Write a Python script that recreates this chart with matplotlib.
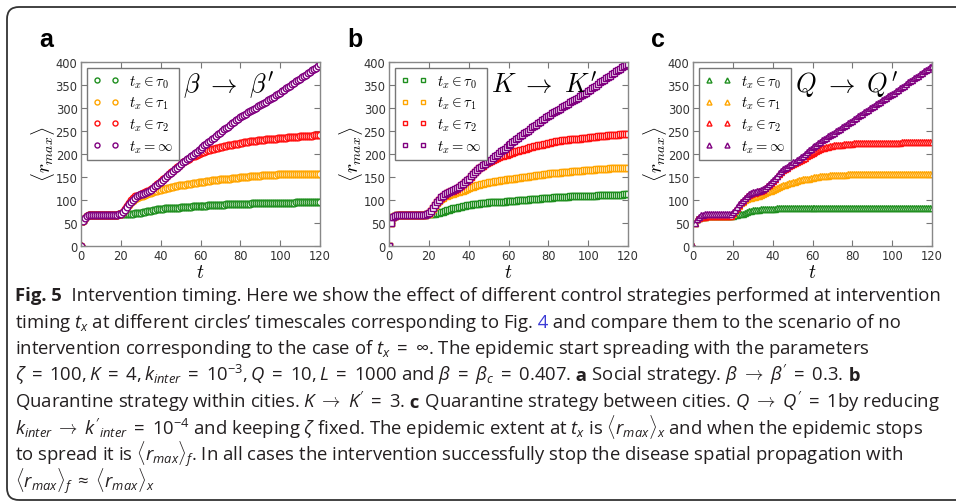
import numpy as np
import matplotlib
matplotlib.use("Agg")
import matplotlib.pyplot as plt
from matplotlib.patches import FancyBboxPatch
from matplotlib.transforms import IdentityTransform

# time grid shared by all curves
t = np.arange(0, 121)

# panel a: beta -> beta'
early_a = [0, 53, 60, 64, 66, 67, 67, 67, 67, 67, 67, 67, 67, 67, 67, 67, 67, 67, 67, 68]
a_t0 = early_a + [
    68, 68, 69, 69, 70, 70, 70, 71, 71, 72,
    72, 73, 74, 75, 76, 76, 77, 78, 79, 79,
    80, 80, 81, 81, 82, 82, 82, 83, 83, 83,
    84, 84, 84, 85, 85, 85, 86, 86, 86, 86,
    87, 87, 87, 87, 88, 88, 88, 88, 89, 89,
    89, 89, 89, 90, 90, 90, 90, 90, 90, 91,
    91, 91, 91, 91, 91, 91, 92, 92, 92, 92,
    92, 92, 92, 92, 93, 93, 93, 93, 93, 93,
    93, 93, 93, 93, 93, 93, 93, 93, 94, 94,
    94, 94, 94, 94, 94, 94, 94, 94, 94, 94,
    94]
a_t1 = early_a + [
    70, 73, 78, 84, 89, 94, 98, 101, 104, 106,
    107, 109, 111, 112, 114, 115, 117, 118, 120, 121,
    122, 123, 124, 125, 126, 127, 128, 129, 130, 131,
    132, 133, 133, 134, 135, 135, 136, 137, 137, 138,
    138, 139, 139, 140, 141, 141, 142, 142, 143, 143,
    144, 144, 145, 145, 146, 146, 147, 147, 148, 148,
    149, 149, 150, 150, 150, 151, 151, 151, 152, 152,
    152, 153, 153, 153, 153, 154, 154, 154, 154, 155,
    155, 155, 155, 155, 155, 156, 156, 156, 156, 156,
    156, 156, 156, 156, 156, 156, 156, 156, 156, 156,
    156]
a_t2 = early_a + [
    70, 74, 80, 87, 93, 99, 104, 107, 109, 111,
    113, 114, 116, 118, 120, 123, 126, 130, 134, 137,
    140, 144, 148, 152, 156, 160, 163, 167, 171, 174,
    178, 181, 184, 187, 189, 192, 194, 196, 198, 199,
    201, 203, 204, 206, 207, 208, 210, 211, 212, 213,
    214, 215, 216, 217, 218, 219, 220, 221, 222, 222,
    223, 224, 225, 225, 226, 227, 227, 228, 228, 229,
    229, 230, 230, 231, 231, 232, 232, 233, 233, 234,
    234, 234, 235, 235, 236, 236, 236, 237, 237, 237,
    238, 238, 238, 238, 239, 239, 239, 240, 240, 240,
    241]
a_inf = early_a + [
    70, 73, 78, 84, 90, 96, 100, 104, 107, 110,
    112, 113, 115, 117, 119, 122, 125, 129, 133, 136,
    139, 143, 147, 151, 155, 159, 162, 166, 170, 174,
    178, 181, 184, 188, 191, 195, 198, 201, 204, 207,
    210, 214, 218, 221, 225, 228, 232, 235, 239, 242,
    246, 249, 253, 256, 259, 263, 266, 270, 273, 276,
    280, 282, 285, 287, 290, 292, 295, 298, 300, 303,
    306, 308, 311, 313, 316, 318, 321, 324, 327, 330,
    333, 336, 339, 342, 345, 348, 351, 354, 357, 360,
    363, 366, 369, 372, 375, 378, 381, 384, 387, 390,
    394]

# panel b: K -> K'
early_b = [0, 50, 62, 65, 66, 67, 67, 67, 67, 67, 67, 67, 67, 67, 67, 67, 67, 67, 67, 68]
b_t0 = early_b + [
    68, 69, 69, 70, 71, 72, 73, 74, 76, 77,
    78, 80, 81, 82, 83, 84, 85, 86, 87, 88,
    89, 89, 90, 90, 91, 91, 92, 92, 93, 93,
    94, 94, 94, 95, 95, 95, 96, 96, 96, 97,
    97, 97, 98, 98, 98, 99, 99, 99, 100, 100,
    100, 101, 101, 101, 102, 102, 102, 103, 103, 103,
    104, 104, 104, 105, 105, 105, 105, 106, 106, 106,
    106, 107, 107, 107, 107, 108, 108, 108, 108, 108,
    109, 109, 109, 109, 109, 110, 110, 110, 110, 110,
    110, 111, 111, 111, 111, 111, 111, 111, 112, 112,
    112]
b_t1 = early_b + [
    70, 75, 80, 86, 92, 97, 101, 104, 107, 109,
    111, 112, 113, 114, 116, 117, 119, 120, 122, 124,
    125, 127, 128, 130, 131, 133, 134, 135, 136, 137,
    138, 139, 139, 140, 141, 141, 142, 143, 143, 144,
    145, 145, 146, 146, 147, 148, 148, 149, 149, 150,
    150, 151, 152, 152, 153, 153, 154, 154, 155, 156,
    156, 157, 157, 158, 158, 159, 159, 160, 160, 160,
    161, 161, 162, 162, 162, 163, 163, 163, 164, 164,
    164, 165, 165, 165, 166, 166, 166, 167, 167, 167,
    167, 168, 168, 168, 168, 169, 169, 169, 169, 170,
    170]
b_t2 = early_b + [
    71, 76, 82, 89, 95, 100, 104, 108, 111, 114,
    116, 118, 120, 122, 124, 127, 130, 134, 138, 141,
    145, 150, 155, 160, 164, 168, 171, 174, 177, 180,
    182, 184, 186, 188, 190, 192, 194, 195, 197, 198,
    199, 201, 202, 204, 205, 206, 208, 209, 210, 211,
    212, 214, 215, 216, 217, 218, 219, 220, 221, 222,
    223, 224, 225, 226, 227, 227, 228, 229, 229, 230,
    230, 231, 231, 232, 232, 233, 233, 234, 234, 235,
    235, 236, 236, 237, 237, 238, 238, 238, 239, 239,
    240, 240, 240, 241, 241, 241, 242, 242, 242, 243,
    243]
b_inf = early_b + [
    71, 76, 82, 89, 95, 100, 105, 109, 112, 115,
    117, 119, 121, 123, 125, 128, 131, 135, 139, 142,
    146, 151, 156, 161, 165, 169, 172, 175, 178, 181,
    184, 187, 191, 194, 198, 201, 205, 208, 211, 214,
    218, 221, 225, 228, 232, 235, 238, 241, 244, 247,
    250, 253, 257, 260, 263, 266, 270, 273, 276, 279,
    283, 285, 288, 291, 293, 296, 298, 301, 304, 306,
    309, 312, 314, 317, 319, 322, 325, 327, 330, 333,
    336, 339, 342, 345, 348, 351, 355, 358, 361, 364,
    367, 370, 373, 376, 379, 382, 385, 388, 391, 393,
    395]

# panel c: Q -> Q'
early_c = [0, 50, 57, 60, 62, 63, 63, 64, 64, 64, 64, 64, 64, 64, 64, 64, 64, 64, 65, 65]
early_c_inf = [0, 50, 59, 63, 66, 67, 68, 68, 68, 68, 68, 68, 68, 68, 68, 68, 68, 69, 69, 70]
c_t0 = early_c + [
    65, 66, 67, 68, 69, 70, 72, 73, 75, 76,
    77, 77, 78, 78, 79, 79, 79, 80, 80, 80,
    80, 80, 81, 81, 81, 81, 81, 81, 82, 82,
    82, 82, 82, 82, 82, 82, 82, 82, 82, 82,
    82, 82, 82, 82, 82, 82, 82, 82, 82, 82,
    82, 82, 82, 82, 82, 82, 82, 82, 82, 82,
    82, 82, 82, 82, 82, 82, 82, 82, 82, 82,
    82, 82, 82, 82, 82, 82, 82, 82, 82, 82,
    82, 82, 82, 82, 82, 82, 82, 82, 82, 82,
    82, 82, 82, 82, 82, 82, 82, 82, 82, 82,
    82]
c_t1 = early_c + [
    70, 75, 81, 87, 92, 96, 99, 101, 103, 104,
    105, 106, 107, 109, 110, 112, 114, 116, 118, 119,
    121, 123, 125, 127, 129, 131, 133, 135, 136, 137,
    138, 139, 141, 142, 143, 144, 145, 146, 146, 147,
    148, 149, 149, 150, 151, 151, 152, 152, 152, 153,
    153, 153, 153, 154, 154, 154, 154, 154, 155, 155,
    155, 155, 155, 155, 155, 155, 155, 155, 155, 155,
    155, 155, 155, 155, 155, 155, 155, 155, 155, 155,
    155, 155, 155, 155, 155, 155, 155, 155, 155, 155,
    155, 155, 155, 155, 155, 155, 155, 155, 155, 155,
    155]
c_t2 = early_c + [
    72, 77, 83, 89, 94, 98, 103, 107, 110, 112,
    114, 115, 116, 118, 120, 122, 125, 129, 133, 137,
    141, 146, 151, 156, 160, 164, 167, 170, 173, 176,
    178, 180, 182, 184, 186, 188, 191, 194, 197, 199,
    201, 204, 206, 208, 210, 212, 213, 214, 215, 216,
    217, 218, 219, 219, 220, 220, 221, 221, 222, 222,
    222, 223, 223, 223, 223, 224, 224, 224, 224, 224,
    224, 224, 224, 224, 224, 224, 224, 224, 224, 224,
    224, 224, 224, 224, 224, 225, 225, 225, 225, 225,
    225, 225, 225, 225, 225, 225, 225, 225, 225, 225,
    225]
c_inf = early_c_inf + [
    73, 78, 84, 90, 95, 99, 104, 108, 112, 114,
    116, 117, 118, 119, 121, 123, 126, 130, 134, 138,
    142, 147, 152, 157, 162, 166, 169, 172, 175, 178,
    181, 183, 186, 189, 192, 196, 200, 204, 208, 211,
    214, 217, 220, 223, 226, 229, 232, 235, 238, 241,
    243, 246, 249, 252, 254, 257, 260, 263, 266, 269,
    272, 275, 278, 281, 284, 287, 290, 293, 296, 299,
    301, 304, 307, 310, 313, 316, 319, 322, 325, 327,
    330, 333, 336, 339, 342, 345, 348, 352, 355, 358,
    361, 364, 367, 370, 373, 376, 379, 382, 385, 388,
    391]

labels = [r"$t_x \in \tau_0$", r"$t_x \in \tau_1$", r"$t_x \in \tau_2$", r"$t_x = \infty$"]
colors = ["#1f8f1f", "#ffa500", "#ff1010", "#800080"]
panels = [("a", "o", r"$\beta\ \rightarrow\ \beta'$", [a_t0, a_t1, a_t2, a_inf]),
          ("b", "s", r"$K\ \rightarrow\ K'$", [b_t0, b_t1, b_t2, b_inf]),
          ("c", "^", r"$Q\ \rightarrow\ Q'$", [c_t0, c_t1, c_t2, c_inf])]
yticks = [0, 50, 100, 150, 200, 250, 300, 350, 400]
xticks = [0, 20, 40, 60, 80, 100, 120]

W, H = 956, 502
plt.rcParams["mathtext.fontset"] = "cm"
plt.rcParams["mathtext.rm"] = "Open Sans"
plt.rcParams["mathtext.it"] = "Open Sans:italic"
plt.rcParams["mathtext.bf"] = "Open Sans:bold"

fig = plt.figure(figsize=(W / 100, H / 100), dpi=100)
fig.patch.set_facecolor("white")

ax_left = [81, 389, 693]
for (tag, mk, note, series), left in zip(panels, ax_left):
    ax = fig.add_axes([left / W, 1 - 246.7 / H, 239 / W, 184 / H])
    for y, c, lab in zip(series, colors, labels):
        ax.plot(t, y, ls="none", marker=mk, ms=4.8, mfc="white", mec=c, mew=1.0, label=lab)
    ax.set_xlim(0, 120)
    ax.set_ylim(0, 400)
    ax.set_xticks(xticks)
    ax.set_yticks(yticks)
    ax.tick_params(direction="in", top=True, right=True, length=4, width=0.8,
                   color="#777777", labelcolor="#333333", labelsize=8.3, pad=2.5)
    for sp in ax.spines.values():
        sp.set_color("#888888")
        sp.set_linewidth(1.0)
    leg = ax.legend(loc="upper left", numpoints=2, fontsize=10.5, handlelength=1.85,
                    handletextpad=0.65, borderpad=0.4, labelspacing=0.35, markerscale=0.75,
                    borderaxespad=0.4, fancybox=False, framealpha=1)
    leg.get_frame().set_edgecolor("#777777")
    leg.get_frame().set_linewidth(1.0)
    ax.text(0.425, 0.84, note, transform=ax.transAxes, fontsize=19, ha="left", va="baseline")
    ax.text(-0.16, 0.5, r"$\langle r_{max} \rangle$", transform=ax.transAxes, rotation=90,
            fontsize=14, ha="center", va="center")
    ax.text(0.5, -0.138, r"$t$", transform=ax.transAxes, fontsize=14, ha="center", va="center")
    fig.text((left - 42) / W, 1 - 47 / H, tag, fontsize=18, fontweight="bold",
             family="Liberation Sans", ha="left", va="baseline")

# rounded frame around the whole figure
frame = FancyBboxPatch((7, 1), 990, 493, boxstyle="round,pad=0,rounding_size=12",
                       transform=IdentityTransform(), fill=False, ec="#333333", lw=1.3)
fig.add_artist(frame)

# caption
fig.canvas.draw()
renderer = fig.canvas.get_renderer()
CAP_FS = 13.3
CAP_COL = "#231f20"


def caption_line(y_px, parts):
    x = 15 / W
    for s, style in parts:
        kw = dict(fontsize=CAP_FS, color=CAP_COL, family="Open Sans", math_fontfamily="custom")
        if style == "b":
            kw["fontweight"] = "bold"
        if style == "link":
            kw["color"] = "#3b3bd6"
        txt = fig.text(x, 1 - y_px / H, s, ha="left", va="baseline", **kw)
        x = txt.get_window_extent(renderer).x1 / W


caption_line(301, [("Fig. 5", "b"),
                   ("  Intervention timing. Here we show the effect of different control strategies performed at intervention", "n")])
caption_line(328, [("timing $t_x$ at different circles\u2019 timescales corresponding to Fig.", "n"),
                   (" 4", "link"), (" and compare them to the scenario of no", "n")])
caption_line(354, [(r"intervention corresponding to the case of $t_x \;=\; \infty$. The epidemic start spreading with the parameters", "n")])
caption_line(381, [(r"$\zeta \;=\; 100, K \;=\; 4, k_{inter} \;=\; 10^{-3}, Q \;=\; 10, L \;=\; 1000$ and $\beta \;=\; \beta_c \;=\; 0.407$.", "n"),
                   (" a", "b"), (r" Social strategy. $\beta \;\rightarrow\; \beta' \;=\; 0.3$.", "n"), (" b", "b")])
caption_line(408, [(r"Quarantine strategy within cities. $K \;\rightarrow\; K' \;=\; 3$.", "n"), (" c", "b"),
                   (r" Quarantine strategy between cities. $Q \;\rightarrow\; Q' \;=\; 1$by reducing", "n")])
caption_line(434, [(r"$k_{inter} \;\rightarrow\; k'_{inter} \;=\; 10^{-4}$ and keeping $\zeta$ fixed. The epidemic extent at $t_x$ is $\langle r_{max} \rangle_x$ and when the epidemic stops", "n")])
caption_line(461, [(r"to spread it is $\langle r_{max} \rangle_f$. In all cases the intervention successfully stop the disease spatial propagation with", "n")])
caption_line(488, [(r"$\langle r_{max} \rangle_f \;\approx\; \langle r_{max} \rangle_x$", "n")])

fig.savefig("out.png", dpi=100)
